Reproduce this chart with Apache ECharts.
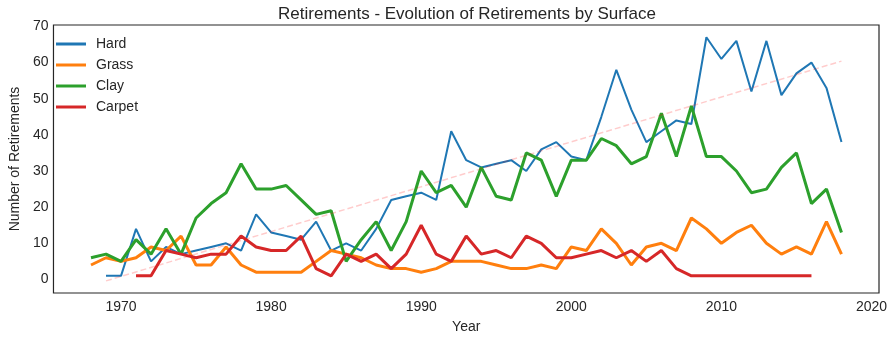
<!DOCTYPE html>
<html>
<head>
<meta charset="utf-8">
<script src="https://cdn.jsdelivr.net/npm/echarts@6/dist/echarts.min.js"></script>
<style>
  html, body { margin: 0; padding: 0; background: #fff; }
  #chart { width: 896px; height: 339px; }
</style>
</head>
<body>
<div id="chart"></div>
<script>
// Retirements per year, split by court surface
const hardYears = [1969, 2018];
const hard = [1,1,14,5,9,7,8,9,10,8,18,13,12,11,16,8,10,8,14,22,23,24,22,41,33,31,32,33,30,36,38,34,33,45,58,47,38,41,44,43,67,61,66,52,66,51,57,60,53,38];
const grassYears = [1968, 2018];
const grass = [4,6,5,6,9,8,12,4,4,9,4,2,2,2,2,5,8,7,6,4,3,3,2,3,5,5,5,4,3,3,4,3,9,8,14,10,4,9,10,8,17,14,10,13,15,10,7,9,7,16,7];
const clayYears = [1968, 2018];
const clay = [6,7,5,11,7,14,7,17,21,24,32,25,25,26,22,18,19,5,11,16,8,16,30,24,26,20,31,23,22,35,33,23,33,33,39,37,32,34,46,34,48,34,34,30,24,25,31,35,21,25,13];
const carpetYears = [1971, 2016];
const carpet = [1,1,8,7,6,7,7,12,9,8,8,12,3,1,7,5,7,3,7,15,7,5,12,7,8,6,12,10,6,6,7,8,6,8,5,8,3,1,1,1,1,1,1,1,1,1];

// Linear trend fitted to the hard-court counts (endpoints)
const trendYears = [1969, 2018];
const trendValues = [-0.4, 60.4];

const xTicks = [1970, 1980, 1990, 2000, 2010, 2020];
const yTicks = [0, 10, 20, 30, 40, 50, 60, 70];

function pairs(range, values) {
  const out = [];
  for (let i = 0; i < values.length; i++) out.push([range[0] + i, values[i]]);
  return out;
}

const TEXT = '#262626';
const FONT = '"Liberation Sans", Arial, sans-serif';

const chart = echarts.init(document.getElementById('chart'));
chart.setOption({
  animation: false,
  backgroundColor: '#ffffff',
  textStyle: { fontFamily: FONT, color: TEXT },
  title: {
    text: 'Retirements - Evolution of Retirements by Surface',
    left: 462, top: 1, textAlign: 'center',
    textStyle: { fontFamily: FONT, fontSize: 17, fontWeight: 'normal', color: TEXT }
  },
  grid: {
    left: 45, right: 17, top: 25, bottom: 42,
    show: true, borderColor: TEXT, borderWidth: 1.2, backgroundColor: '#fff'
  },
  legend: {
    orient: 'vertical', left: 51, top: 31,
    itemWidth: 30, itemHeight: 3, itemGap: 5,
    icon: 'rect',
    textStyle: { fontFamily: FONT, fontSize: 14, color: TEXT, padding: [0, 0, 0, 5], lineHeight: 16, height: 16 },
    data: ['Hard', 'Grass', 'Clay', 'Carpet']
  },
  xAxis: {
    type: 'value', min: 1965.5, max: 2020.5,
    name: 'Year', nameLocation: 'middle', nameGap: 27,
    nameTextStyle: { fontFamily: FONT, fontSize: 14, color: TEXT },
    axisLine: { show: false }, axisTick: { show: false }, splitLine: { show: false },
    axisLabel: { customValues: xTicks, formatter: v => String(v), fontFamily: FONT, fontSize: 14, color: TEXT, margin: 7 }
  },
  yAxis: {
    type: 'value', min: -3.75, max: 70.4,
    name: 'Number of Retirements', nameLocation: 'middle', nameGap: 30, nameRotate: 90,
    nameTextStyle: { fontFamily: FONT, fontSize: 14, color: TEXT },
    axisLine: { show: false }, axisTick: { show: false }, splitLine: { show: false },
    axisLabel: { customValues: yTicks, formatter: v => String(v), fontFamily: FONT, fontSize: 14, color: TEXT, margin: 5 }
  },
  series: [
    { name: 'Hard', type: 'line', showSymbol: false, color: '#1f77b4',
      lineStyle: { width: 2 }, data: pairs(hardYears, hard) },
    { name: 'Grass', type: 'line', showSymbol: false, color: '#ff7f0e',
      lineStyle: { width: 3 }, data: pairs(grassYears, grass) },
    { name: 'Clay', type: 'line', showSymbol: false, color: '#2ca02c',
      lineStyle: { width: 3 }, data: pairs(clayYears, clay) },
    { name: 'Carpet', type: 'line', showSymbol: false, color: '#d62728',
      lineStyle: { width: 3 }, data: pairs(carpetYears, carpet) },
    { name: 'trend', type: 'line', showSymbol: false, silent: true,
      lineStyle: { width: 1.5, color: 'rgba(255,0,0,0.2)', type: [6, 3] },
      data: trendYears.map((y, i) => [y, trendValues[i]]) }
  ]
});
</script>
</body>
</html>
